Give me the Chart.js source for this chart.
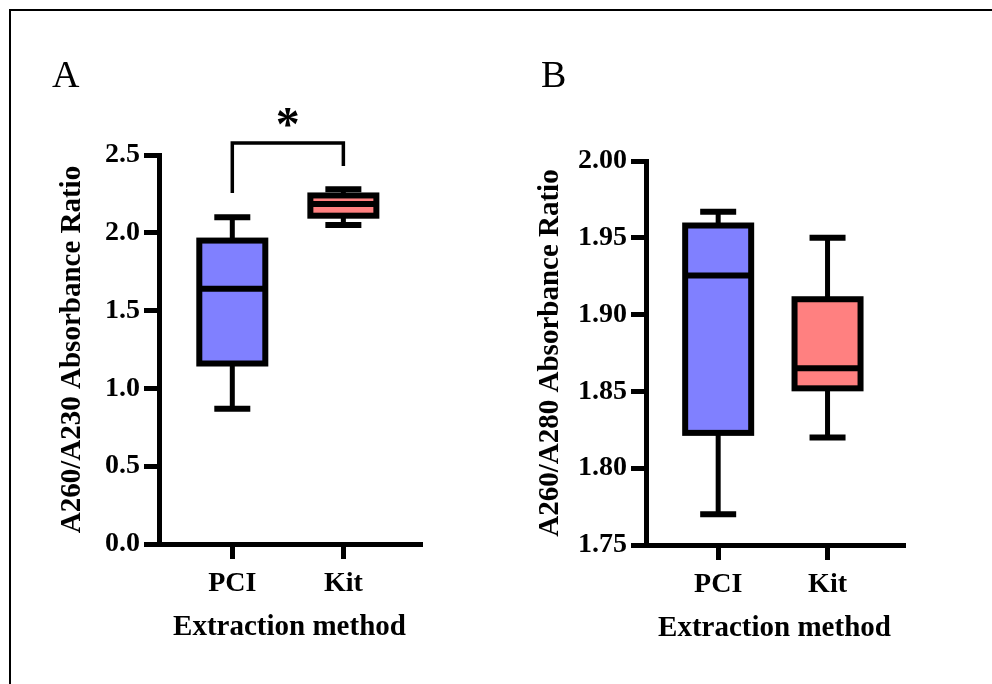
<!DOCTYPE html>
<html><head><meta charset="utf-8">
<script src="https://cdn.jsdelivr.net/npm/chart.js@4.4.1/dist/chart.umd.min.js"></script>
<style>
html,body{margin:0;padding:0;background:#fff;}
#wrap{position:relative;width:992px;height:684px;overflow:hidden;background:#fff;}
#frame{position:absolute;left:9px;top:9px;width:1000px;height:700px;border-top:2px solid #000;border-left:2px solid #000;}
canvas{position:absolute;top:0;}
#cA{left:0}
#cB{left:496px}
</style></head><body>
<div id="wrap"><div id="frame"></div>
<canvas id="cA" width="496" height="684"></canvas>
<canvas id="cB" width="496" height="684"></canvas>
</div>
<script>
// ---- data ----
const categories = ['PCI', 'Kit'];
// Panel A: A260/A230
const a230Min    = [0.87, 2.05];
const a230Q1     = [1.16, 2.11];
const a230Median = [1.64, 2.185];
const a230Q3     = [1.95, 2.24];
const a230Max    = [2.10, 2.28];
const a230Ticks  = [0.0, 0.5, 1.0, 1.5, 2.0, 2.5];
// Panel B: A260/A280
const a280Min    = [1.770, 1.820];
const a280Q1     = [1.823, 1.852];
const a280Median = [1.9255, 1.865];
const a280Q3     = [1.958, 1.910];
const a280Max    = [1.967, 1.950];
const a280Ticks  = [1.75, 1.80, 1.85, 1.90, 1.95, 2.00];
// significance bracket (panel A): left leg end, bar level, right leg end
const sigLabel   = '*';
const sigLevels  = [2.256, 2.577, 2.43];

const FONT = 'Liberation Serif';
const fills = ['#8080FF', '#FF8080'];

function boxPlugin(stats, extra) {
  return {
    id: 'boxplot',
    afterDatasetsDraw(chart) {
      const x = chart.scales.x, y = chart.scales.y, ctx = chart.ctx;
      ctx.save();
      ctx.strokeStyle = '#000';
      ctx.lineCap = 'butt';
      ctx.lineJoin = 'miter';
      categories.forEach((c, i) => {
        const px = x.getPixelForValue(i);
        const hw = 33, cw = 18;
        const pMin = y.getPixelForValue(stats.min[i]);
        const pQ1 = y.getPixelForValue(stats.q1[i]);
        const pMed = y.getPixelForValue(stats.med[i]);
        const pQ3 = y.getPixelForValue(stats.q3[i]);
        const pMax = y.getPixelForValue(stats.max[i]);
        ctx.lineWidth = 5;
        ctx.beginPath();
        ctx.moveTo(px, pQ3); ctx.lineTo(px, pMax);
        ctx.moveTo(px, pQ1); ctx.lineTo(px, pMin);
        ctx.stroke();
        ctx.lineWidth = 6;
        ctx.beginPath();
        ctx.moveTo(px - cw, pMax); ctx.lineTo(px + cw, pMax);
        ctx.moveTo(px - cw, pMin); ctx.lineTo(px + cw, pMin);
        ctx.stroke();
        ctx.strokeRect(px - hw, pQ3, 2 * hw, pQ1 - pQ3);
        ctx.beginPath();
        ctx.moveTo(px - hw, pMed); ctx.lineTo(px + hw, pMed);
        ctx.stroke();
      });
      if (extra) extra(chart, x, y, ctx);
      ctx.restore();
    }
  };
}

function makeChart(id, cfg) {
  const tickFont = {family: FONT, size: 28, weight: 'bold'};
  const titleFont = {family: FONT, size: 29, weight: 'bold'};
  const gridOpts = {display: true, drawOnChartArea: false, drawTicks: true, offset: false,
                    tickLength: 15, lineWidth: 5, color: '#000'};
  const borderOpts = {display: true, width: 5, color: '#000'};
  return new Chart(document.getElementById(id), {
    type: 'bar',
    data: {
      datasets: [{
        data: categories.map((c, i) => ({x: i, y: [cfg.stats.q1[i], cfg.stats.q3[i]]})),
        backgroundColor: fills,
        borderWidth: 0,
        barThickness: 66
      }]
    },
    options: {
      responsive: false, animation: false, devicePixelRatio: 1,
      layout: {padding: {left: 0, top: cfg.top, right: cfg.right, bottom: 0}},
      plugins: {legend: {display: false}, tooltip: {enabled: false}},
      scales: {
        x: {
          type: 'linear', min: -0.66, max: 1.69, offset: false,
          afterBuildTicks: s => { s.ticks = categories.map((c, i) => ({value: i})); },
          afterFit: s => { s.height = cfg.xh; },
          ticks: {callback: v => categories[v] ?? '', font: tickFont, color: '#000',
                  padding: 8, autoSkip: false, maxRotation: 0},
          grid: gridOpts, border: borderOpts,
          title: {display: true, text: 'Extraction method', font: titleFont, color: '#000',
                  padding: {top: 0, bottom: cfg.xtp}}
        },
        y: {
          type: 'linear', min: cfg.ticks[0], max: cfg.ticks[cfg.ticks.length - 1],
          afterBuildTicks: s => { s.ticks = cfg.ticks.map(v => ({value: v})); },
          afterFit: s => { s.width = cfg.yw; },
          ticks: {callback: v => Number(v).toFixed(cfg.dec), font: tickFont, color: '#000', padding: 4},
          grid: gridOpts, border: borderOpts,
          title: {display: true, text: cfg.ytitle, font: titleFont, color: '#000',
                  padding: {top: cfg.ytp, bottom: 0}}
        }
      }
    },
    plugins: [boxPlugin(cfg.stats, cfg.extra)]
  });
}

makeChart('cA', {
  stats: {min: a230Min, q1: a230Q1, med: a230Median, q3: a230Q3, max: a230Max},
  ticks: a230Ticks, dec: 1, ytitle: 'A260/A230 Absorbance Ratio',
  top: 155, right: 76, xh: 140, yw: 159, xtp: 39, ytp: 55,
  extra: (chart, x, y, ctx) => {
    const p0 = x.getPixelForValue(0), p1 = x.getPixelForValue(1);
    ctx.lineWidth = 3.5;
    ctx.beginPath();
    ctx.moveTo(p0, y.getPixelForValue(sigLevels[0]));
    ctx.lineTo(p0, y.getPixelForValue(sigLevels[1]));
    ctx.lineTo(p1, y.getPixelForValue(sigLevels[1]));
    ctx.lineTo(p1, y.getPixelForValue(sigLevels[2]));
    ctx.stroke();
    ctx.fillStyle = '#000';
    ctx.textAlign = 'center';
    ctx.textBaseline = 'alphabetic';
    ctx.font = 'bold 48px "' + FONT + '"';
    ctx.fillText(sigLabel, (p0 + p1) / 2, 140);
    ctx.textAlign = 'left';
    ctx.font = '38px "' + FONT + '"';
    ctx.fillText('A', 52, 87);
  }
});

makeChart('cB', {
  stats: {min: a280Min, q1: a280Q1, med: a280Median, q3: a280Q3, max: a280Max},
  ticks: a280Ticks, dec: 2, ytitle: 'A260/A280 Absorbance Ratio',
  top: 161, right: 89, xh: 139, yw: 150, xtp: 38, ytp: 37.6,
  extra: (chart, x, y, ctx) => {
    ctx.fillStyle = '#000';
    ctx.textAlign = 'left';
    ctx.textBaseline = 'alphabetic';
    ctx.font = '38px "' + FONT + '"';
    ctx.fillText('B', 45, 87);
  }
});
</script>
</body></html>
